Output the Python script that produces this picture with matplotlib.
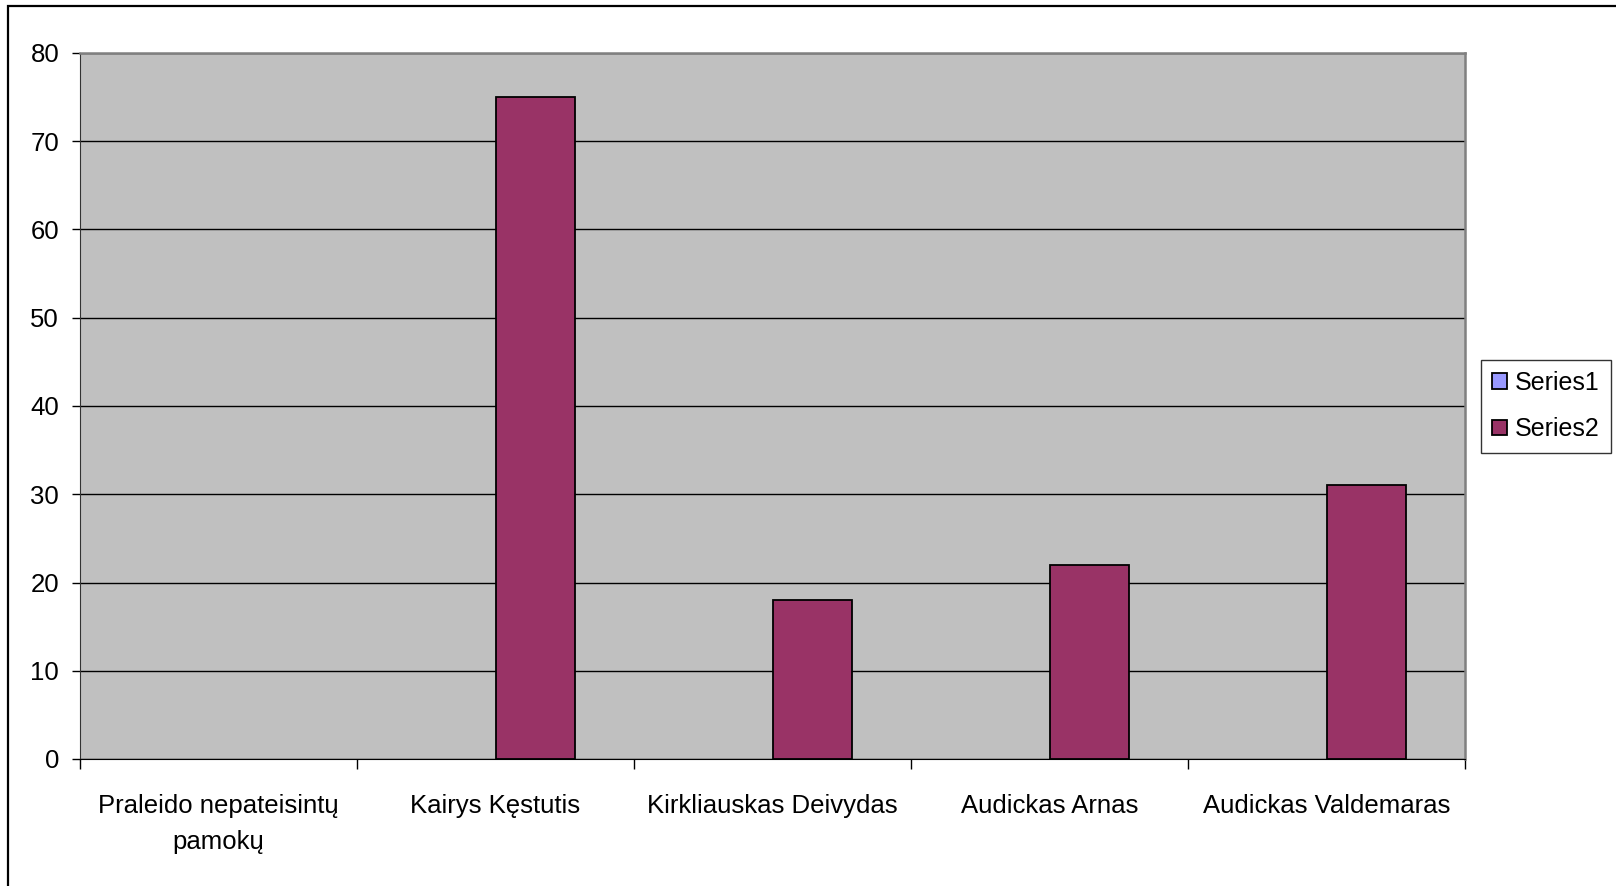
import numpy as np
import matplotlib
matplotlib.use("Agg")
import matplotlib.pyplot as plt
from matplotlib.patches import Rectangle

plt.rcParams["font.family"] = ["Liberation Sans", "DejaVu Sans"]

# chart data
categories = ["Praleido nepateisintų\npamokų", "Kairys Kęstutis",
              "Kirkliauskas Deivydas", "Audickas Arnas", "Audickas Valdemaras"]
series1 = [np.nan, np.nan, np.nan, np.nan, np.nan]  # no visible bars
series2 = [np.nan, 75, 18, 22, 31]
yticks = [0, 10, 20, 30, 40, 50, 60, 70, 80]

W, H = 1616, 886
fig = plt.figure(figsize=(W / 100, H / 100), dpi=100)
ax = fig.add_axes([80 / W, 1 - 759 / H, (1465 - 80) / W, (759 - 53) / H])

# outer chart border (runs off the right and bottom edges)
fig.patches.append(Rectangle((8 / W, -0.1), 1.2, 1 - 6 / H + 0.1,
                             transform=fig.transFigure, fill=False,
                             edgecolor="black", linewidth=1.6, zorder=0))

x = np.arange(len(categories))
w = 1 / 3.5  # Excel gap width 150%
ax.bar(x - w / 2, series1, w, color="#9999FF", edgecolor="black",
       linewidth=1.3, label="Series1", zorder=3)
ax.bar(x + w / 2, series2, w, color="#993366", edgecolor="black",
       linewidth=1.3, label="Series2", zorder=3)

ax.set_facecolor("#C0C0C0")
ax.set_xlim(-0.5, len(categories) - 0.5)
ax.set_ylim(0, 80)
ax.set_yticks(yticks)
ax.yaxis.grid(True, color="black", linewidth=1.0, zorder=1)
ax.set_axisbelow(True)

# major ticks at group boundaries, labels at group centres
ax.set_xticks(np.arange(len(categories) + 1) - 0.5)
ax.set_xticklabels([])
ax.set_xticks(x, minor=True)
ax.set_xticklabels(categories, minor=True, fontsize=18.5, linespacing=1.6)
ax.tick_params(axis="x", which="minor", length=0, pad=25.5)
ax.tick_params(axis="x", which="major", length=7, width=1, color="black")
ax.tick_params(axis="y", length=6, width=1, labelsize=18.5, pad=9)

for side in ["top", "right"]:
    ax.spines[side].set_color("#808080")
    ax.spines[side].set_linewidth(1.8)
ax.spines["left"].set_color("#333333")
ax.spines["bottom"].set_color("black")

leg = ax.legend(loc="center", bbox_to_anchor=(1546 / W, 1 - 406 / H),
                bbox_transform=fig.transFigure, fontsize=18, frameon=True,
                fancybox=False, edgecolor="black", handlelength=0.6,
                handleheight=0.6, handletextpad=0.32, labelspacing=0.9,
                borderpad=0.45, borderaxespad=0)
leg.get_frame().set_linewidth(1.0)

fig.savefig("out.png", dpi=100)
